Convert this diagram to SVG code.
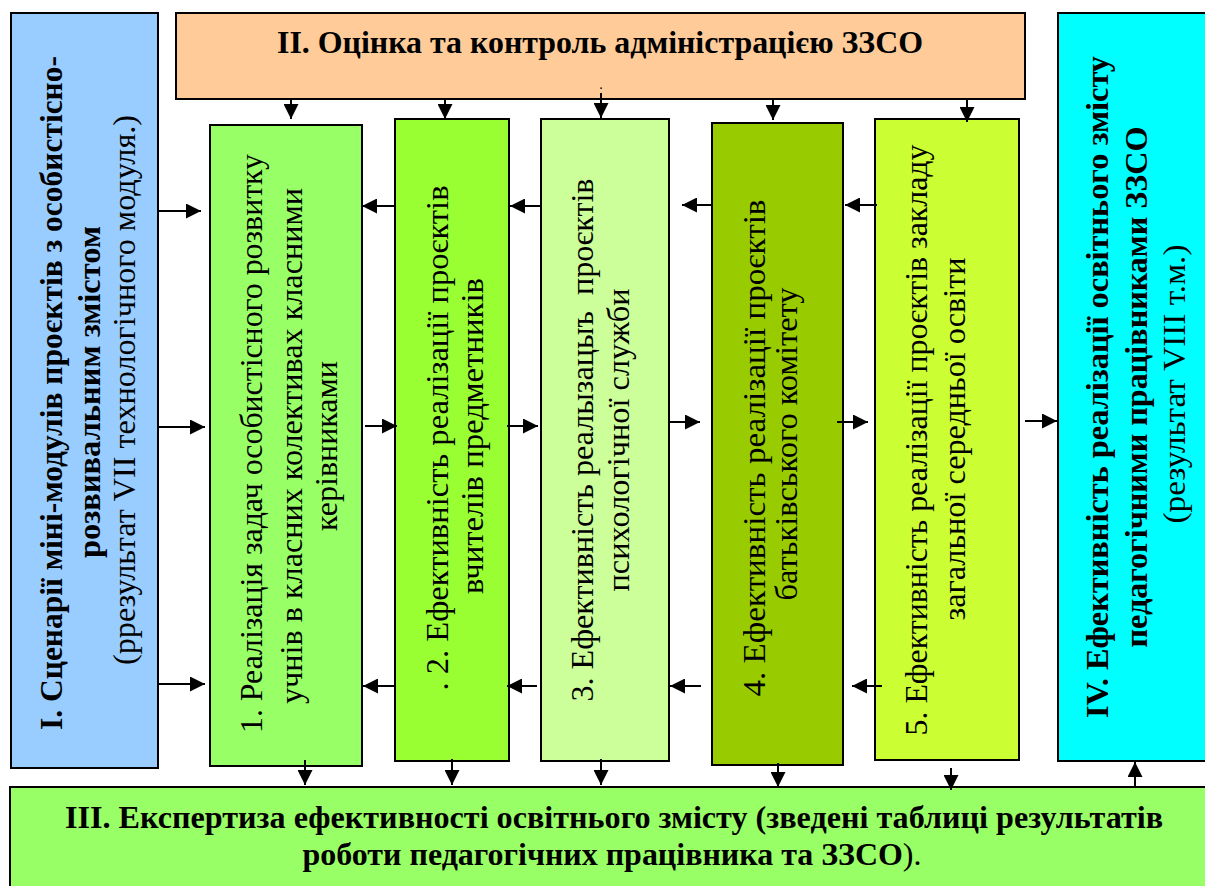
<svg xmlns="http://www.w3.org/2000/svg" width="1205" height="886" viewBox="0 0 1205 886">
<style>
.box{stroke:#000;stroke-width:2}
.t{font-family:'Liberation Serif','Times New Roman','DejaVu Serif',serif;font-size:32px;fill:#000;text-anchor:middle}
.b{font-weight:bold}
.c{stroke:#000;stroke-width:2;fill:none;marker-end:url(#ah)}
</style>
<defs>
<marker id="ah" markerUnits="userSpaceOnUse" markerWidth="15" markerHeight="15" refX="15" refY="7.5" orient="auto">
<path d="M0,0 L15,7.5 L0,15 z" fill="#000"/>
</marker>
</defs>
<rect width="1205" height="886" fill="#fff"/>

<g id="node-I" font-family="Liberation Serif, Times New Roman, serif">
<rect class="box" x="11" y="13" width="147" height="755" fill="#99CCFF"/>
<text class="t b" transform="translate(62,393) rotate(-90)" textLength="674" lengthAdjust="spacingAndGlyphs">I. Сценарії міні-модулів проєктів з особистісно-</text>
<text class="t b" transform="translate(100,392) rotate(-90)" textLength="332" lengthAdjust="spacingAndGlyphs">розвивальним змістом</text>
<text class="t" transform="translate(135,390) rotate(-90)" textLength="550" lengthAdjust="spacingAndGlyphs">(ррезультат VII технологічного модуля.)</text>
</g>

<g id="node-II" font-family="Liberation Serif, Times New Roman, serif">
<rect class="box" x="176" y="13" width="849" height="86" fill="#FFCC99"/>
<text class="t b" x="600" y="53" textLength="646" lengthAdjust="spacingAndGlyphs">II. Оцінка та контроль адміністрацією ЗЗСО</text>
<text class="t" x="601" y="89" style="font-size:14px">.</text>
</g>

<g id="node-IV" font-family="Liberation Serif, Times New Roman, serif">
<rect class="box" x="1058" y="13" width="160" height="748" fill="#00FFFF"/>
<text class="t b" transform="translate(1108,387) rotate(-90)" textLength="662" lengthAdjust="spacingAndGlyphs">IV. Ефективність реалізації освітнього змісту</text>
<text class="t b" transform="translate(1147,387) rotate(-90)" textLength="521" lengthAdjust="spacingAndGlyphs">педагогічними працівниками ЗЗСО</text>
<text class="t" transform="translate(1185,384) rotate(-90)" textLength="279" lengthAdjust="spacingAndGlyphs">(результат VIII т.м.)</text>
</g>

<g id="node-1" font-family="Liberation Serif, Times New Roman, serif">
<rect class="box" x="210" y="125" width="152" height="641" fill="#99FF66"/>
<text class="t" transform="translate(262,443.5) rotate(-90)" textLength="579" lengthAdjust="spacingAndGlyphs">1. Реалізація задач особистісного розвитку</text>
<text class="t" transform="translate(302,446) rotate(-90)" textLength="516" lengthAdjust="spacingAndGlyphs">учнів в класних колективах класними</text>
<text class="t" transform="translate(337,446) rotate(-90)" textLength="170" lengthAdjust="spacingAndGlyphs">керівниками</text>
</g>

<g id="node-2" font-family="Liberation Serif, Times New Roman, serif">
<rect class="box" x="395" y="119" width="114" height="642" fill="#99FF33"/>
<text class="t" transform="translate(448,438) rotate(-90)" textLength="505" lengthAdjust="spacingAndGlyphs">. 2. Ефективність реалізації проєктів</text>
<text class="t" transform="translate(483,436) rotate(-90)" textLength="316" lengthAdjust="spacingAndGlyphs">вчителів предметників</text>
</g>

<g id="node-3" font-family="Liberation Serif, Times New Roman, serif">
<rect class="box" x="541" y="119" width="128" height="642" fill="#CCFF99"/>
<text class="t" xml:space="preserve" transform="translate(593,440) rotate(-90)" textLength="523" lengthAdjust="spacingAndGlyphs">3. Ефективність реалызацыъ  проєктів</text>
<text class="t" transform="translate(629,440) rotate(-90)" textLength="303" lengthAdjust="spacingAndGlyphs">психологічної служби</text>
</g>

<g id="node-4" font-family="Liberation Serif, Times New Roman, serif">
<rect class="box" x="712" y="123" width="131" height="642" fill="#99CC00"/>
<text class="t" transform="translate(765,448) rotate(-90)" textLength="497" lengthAdjust="spacingAndGlyphs">4. Ефективність реалізації проєктів</text>
<text class="t" transform="translate(797,444) rotate(-90)" textLength="313" lengthAdjust="spacingAndGlyphs">батьківського комітету</text>
</g>

<g id="node-5" font-family="Liberation Serif, Times New Roman, serif">
<rect class="box" x="875" y="119" width="144" height="641" fill="#CCFF33"/>
<text class="t" transform="translate(927,440) rotate(-90)" textLength="591" lengthAdjust="spacingAndGlyphs">5. Ефективність реалізації проєктів закладу</text>
<text class="t" transform="translate(965,439) rotate(-90)" textLength="363" lengthAdjust="spacingAndGlyphs">загальної середньої освіти</text>
</g>

<g id="node-III" font-family="Liberation Serif, Times New Roman, serif">
<rect class="box" x="10" y="787" width="1210" height="110" fill="#99FF66"/>
<text class="t b" x="614" y="828" textLength="1098" lengthAdjust="spacingAndGlyphs">III. Експертиза ефективності освітнього змісту (зведені таблиці результатів</text>
<text class="t b" x="612" y="865" textLength="619" lengthAdjust="spacingAndGlyphs">роботи педагогічних працівника та ЗЗСО<tspan style="font-weight:normal">).</tspan></text>
</g>

<g id="connectors">
<line class="c" x1="291" y1="99" x2="291" y2="119"/>
<line class="c" x1="445" y1="99" x2="445" y2="119"/>
<line class="c" x1="601" y1="93" x2="601" y2="118"/>
<line class="c" x1="773" y1="99" x2="773" y2="120"/>
<line class="c" x1="967" y1="99" x2="967" y2="122"/>

<line class="c" x1="159" y1="211" x2="201" y2="211"/>
<line class="c" x1="394" y1="206" x2="362" y2="206"/>
<line class="c" x1="541" y1="206" x2="510" y2="206"/>
<line class="c" x1="712" y1="205" x2="682" y2="205"/>
<line class="c" x1="877" y1="205" x2="845" y2="205"/>

<line class="c" x1="159" y1="427" x2="205" y2="427"/>
<line class="c" x1="365" y1="426" x2="397" y2="426"/>
<line class="c" x1="507" y1="426" x2="538" y2="426"/>
<line class="c" x1="670" y1="422" x2="700" y2="422"/>
<line class="c" x1="837" y1="422" x2="868" y2="422"/>
<line class="c" x1="1025" y1="421" x2="1057" y2="421"/>

<line class="c" x1="159" y1="684" x2="205" y2="684"/>
<line class="c" x1="394" y1="686" x2="363" y2="686"/>
<line class="c" x1="537" y1="686" x2="507" y2="686"/>
<line class="c" x1="701" y1="686" x2="670" y2="686"/>
<line class="c" x1="882" y1="686" x2="852" y2="686"/>

<line class="c" x1="305" y1="760" x2="305" y2="785"/>
<line class="c" x1="452" y1="759" x2="452" y2="785"/>
<line class="c" x1="601" y1="759" x2="601" y2="785"/>
<line class="c" x1="778" y1="763" x2="778" y2="787"/>
<line class="c" x1="951" y1="768" x2="951" y2="790"/>
<line class="c" x1="1135" y1="786" x2="1135" y2="762"/>
</g>
</svg>
